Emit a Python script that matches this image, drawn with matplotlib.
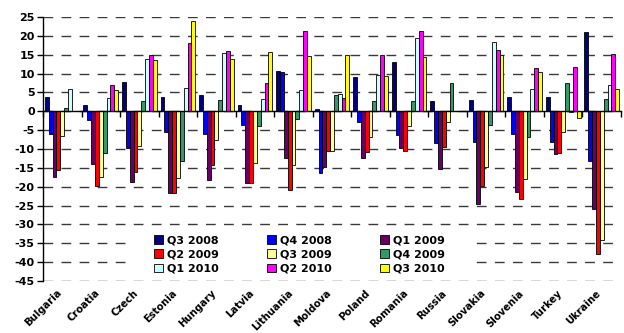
import numpy as np
import matplotlib
matplotlib.use("Agg")
import matplotlib.pyplot as plt
from matplotlib.patches import Rectangle
from matplotlib.transforms import blended_transform_factory

nan = np.nan
countries = ["Bulgaria", "Croatia", "Czech", "Estonia", "Hungary", "Latvia",
             "Lithuania", "Moldova", "Poland", "Romania", "Russia", "Slovakia",
             "Slovenia", "Turkey", "Ukraine"]
series_names = ["Q3 2008", "Q4 2008", "Q1 2009", "Q2 2009", "Q3 2009",
                "Q4 2009", "Q1 2010", "Q2 2010", "Q3 2010"]

q3_2008 = [3.9, 1.7, 7.7, 3.8, 4.3, 1.6, 10.6, 0.6, 9.2, 13.0, 2.6, 3.1, 3.7, 3.9, 21.1]
q4_2008 = [-6.0, -2.4, -9.8, -5.6, -5.9, -3.7, 10.3, -16.3, -2.9, -6.3, -8.3, -8.1, -6.1, -8.1, -13.2]
q1_2009 = [-17.3, -14.0, -18.7, -21.6, -18.1, -19.0, -12.3, -14.7, -12.4, -9.7, -15.4, -24.7, -21.4, -11.4, -25.8]
q2_2009 = [-15.6, -19.7, -16.0, -21.6, -14.3, -18.9, -21.0, -10.4, -10.8, -10.5, -9.6, -19.9, -23.2, -11.0, -37.9]
q3_2009 = [-6.6, -17.5, -9.1, -17.8, -7.7, -13.8, -14.3, -10.6, -6.9, -3.9, -2.9, -14.9, -18.0, -5.4, -34.0]
q4_2009 = [0.8, -11.1, 2.6, -13.3, 2.9, -3.8, -2.0, 4.4, 2.6, 2.8, 7.6, -3.6, -6.8, 7.4, 3.2]
q1_2010 = [5.9, 3.6, 13.8, 6.1, 15.4, 3.2, 5.6, 4.7, 9.7, 19.4, nan, 18.3, 5.8, -0.2, 7.0]
q2_2010 = [nan, 7.1, 15.0, 18.0, 15.9, 7.5, 21.4, 3.4, 14.9, 21.4, nan, 16.2, 11.4, 11.7, 15.1]
q3_2010 = [nan, 5.7, 13.5, 24.0, 13.9, 15.6, 14.6, 14.9, 9.4, 14.5, nan, 14.9, 10.5, -1.9, 6.0]

all_series = [q3_2008, q4_2008, q1_2009, q2_2009, q3_2009, q4_2009, q1_2010, q2_2010, q3_2010]
colors = ["#000080", "#0000FF", "#660066", "#FF0000", "#FFFF99",
          "#339966", "#CCFFFF", "#FF00FF", "#FFFF00"]

yticks = list(range(-45, 30, 5))

plt.rcParams['font.family'] = ['DejaVu Sans']
plt.rcParams['font.weight'] = 'bold'
FS = 8

fig = plt.figure(figsize=(6.24, 3.33), dpi=100)
ax = fig.add_axes([43/624, 1 - 281/333, 578/624, 264/333])

n = len(countries)
x = np.arange(n)
w = 0.1
handles = []
for k, (vals, c) in enumerate(zip(all_series, colors)):
    off = (k - 4) * w
    b = ax.bar(x + off, vals, width=w, color=c, edgecolor='black', linewidth=0.6,
               zorder=2, label=series_names[k])
    handles.append(b)

ax.set_xlim(-0.5, n - 0.5)
ax.set_ylim(-45, 25)
ax.set_yticks(yticks, labels=[str(t) for t in yticks])
ax.yaxis.grid(True, color='#3a3a3a', linewidth=1.0, linestyle=(0, (7, 6)))
ax.set_axisbelow(True)

for s in ['top', 'right']:
    ax.spines[s].set_visible(False)
ax.spines['left'].set_linewidth(1.0)
ax.spines['bottom'].set_position(('data', 0))
ax.spines['bottom'].set_linewidth(1.0)
ax.spines['bottom'].set_zorder(3)
ax.set_xticks(np.arange(-0.5, n, 1.0))
ax.set_xticklabels([])
ax.tick_params(axis='x', direction='out', length=4, width=1)
ax.tick_params(axis='y', direction='out', length=4, width=1, labelsize=FS, pad=2)
for lab in ax.get_yticklabels():
    lab.set_fontweight('bold')

trans = blended_transform_factory(ax.transData, ax.transAxes)
for i, name in enumerate(countries):
    ax.text(i - 0.15, -0.026, name, transform=trans, rotation=45,
            rotation_mode='anchor', ha='right', va='top', fontsize=7.2,
            fontweight='bold')

# white box behind legend
ax.add_patch(Rectangle(((130 - 43) / 578, (281 - 276) / 264),
                       (472 - 130) / 578, (276 - 231) / 264,
                       transform=ax.transAxes, facecolor='white',
                       edgecolor='none', zorder=1.5))

order = [0, 3, 6, 1, 4, 7, 2, 5, 8]
leg = ax.legend([handles[i] for i in order], [series_names[i] for i in order],
                ncol=3, loc='upper left',
                bbox_to_anchor=((154 - 43) / 578, (281 - 235) / 264),
                frameon=False, borderpad=0, borderaxespad=0,
                handlelength=0.8, handleheight=0.8, handletextpad=0.4,
                columnspacing=4.3, labelspacing=0.38,
                prop={'size': FS, 'weight': 'bold'})
leg.set_zorder(5)

fig.savefig("out.png", dpi=100)
